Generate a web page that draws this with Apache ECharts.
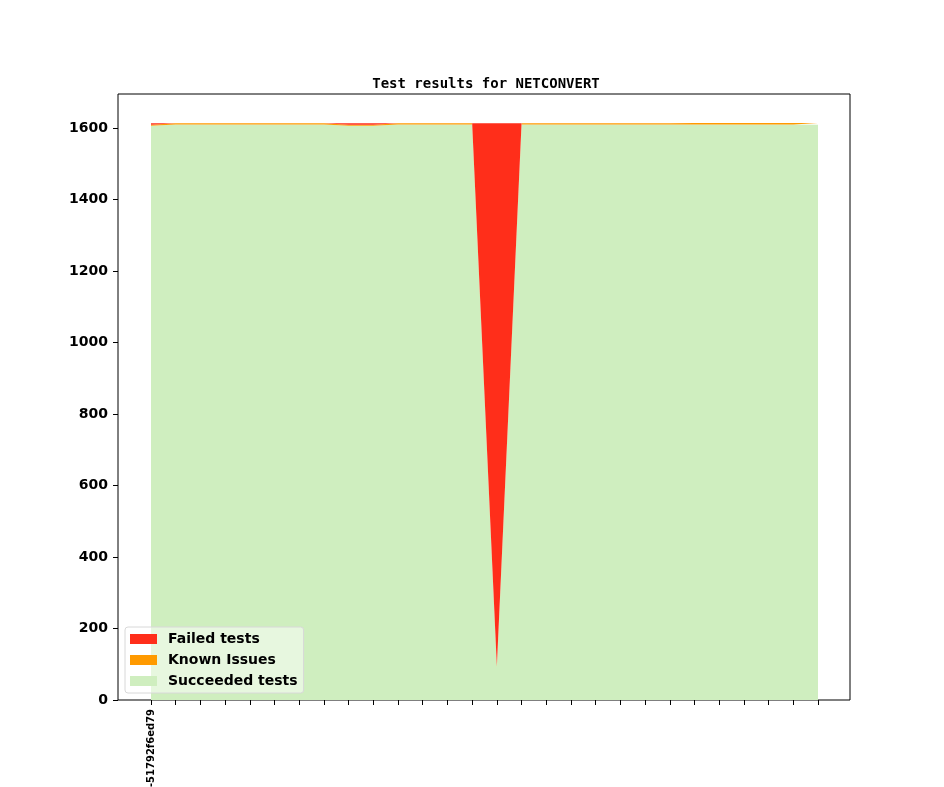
<!DOCTYPE html>
<html lang="en">
<head>
	<meta charset="UTF-8">
	<title>Test results for NETCONVERT</title>
	<script src="https://cdn.jsdelivr.net/npm/echarts@6/dist/echarts.min.js"></script>
	<style>
		html, body { margin: 0; padding: 0; background: #fff; }
		#chart { width: 944px; height: 787px; }
	</style>
</head>
<body>
<div id="chart"></div>
<script>
	// one entry per build, only the first label is visible in the original
	var commits = ['-51792f6ed79', '', '', '', '', '', '', '', '', '', '', '', '', '',
		'', '', '', '', '', '', '', '', '', '', '', '', '', ''];
	var succeeded = [1606, 1610, 1610, 1610, 1610, 1610, 1610, 1610, 1606, 1606, 1610, 1610, 1610, 1610,
		92, 1610, 1610, 1610, 1610, 1610, 1610, 1610, 1610, 1610, 1610, 1610, 1610, 1609];
	var known = [3, 3, 3, 3, 3, 3, 3, 3, 3, 3, 3, 3, 3, 3,
		3, 3, 3, 3, 3, 3, 3, 3, 4, 4, 4, 4, 4, 5];
	var failed = [4, 0, 0, 0, 0, 0, 0, 0, 4, 4, 0, 0, 0, 0,
		1518, 0, 0, 0, 0, 0, 0, 0, 0, 0, 0, 0, 0, 0];
	var yTicks = [0, 200, 400, 600, 800, 1000, 1200, 1400, 1600];

	var chart = echarts.init(document.getElementById('chart'));
	var sans = 'DejaVu Sans';

	function area(name, color, data) {
		return {
			name: name,
			type: 'line',
			stack: 'tests',
			data: data,
			showSymbol: false,
			symbol: 'none',
			lineStyle: {width: 0},
			itemStyle: {color: color},
			areaStyle: {color: color, opacity: 1},
			silent: true,
			animation: false
		};
	}

	chart.setOption({
		animation: false,
		title: {
			text: 'Test results for NETCONVERT',
			left: 481,
			top: 72,
			textAlign: 'center',
			textStyle: {fontFamily: 'DejaVu Sans Mono', fontWeight: 'bold', fontSize: 14, color: '#000'}
		},
		legend: {
			orient: 'vertical',
			left: 125,
			top: 627,
			data: ['Failed tests', 'Known Issues', 'Succeeded tests'],
			icon: 'rect',
			itemWidth: 27,
			itemHeight: 10,
			itemGap: 7,
			padding: [5, 6, 5, 5],
			backgroundColor: 'rgba(255,255,255,0.5)',
			borderColor: '#d8d8d8',
			borderWidth: 1,
			borderRadius: 3,
			selectedMode: false,
			textStyle: {fontFamily: sans, fontWeight: 'bold', fontSize: 14, color: '#000', padding: [0, 0, 0, 6]}
		},
		grid: [
			{left: 151, right: 126, top: 94, bottom: 87, outerBoundsMode: 'none', containLabel: false},
			{left: 118, right: 94, top: 94, bottom: 87, outerBoundsMode: 'none', show: true, borderColor: '#000', borderWidth: 1, backgroundColor: 'transparent'}
		],
		xAxis: [
			{
				type: 'category',
				data: commits,
				boundaryGap: false,
				axisLine: {show: false},
				axisTick: {show: true, interval: 0, length: 5, lineStyle: {color: '#000'}},
				axisLabel: {
					interval: 0,
					rotate: 90,
					margin: 9,
					fontFamily: sans,
					fontWeight: 'bold',
					fontSize: 10,
					color: '#000'
				},
				splitLine: {show: false}
			},
			{type: 'value', gridIndex: 1, show: false}
		],
		yAxis: [
			{
				type: 'value',
				min: 0,
				max: 1695,
				offset: 33,
				axisLine: {show: false},
				axisTick: {show: true, length: 5, customValues: yTicks, lineStyle: {color: '#000'}},
				axisLabel: {
					customValues: yTicks,
					margin: 10,
					formatter: function (v) { return String(v); },
					fontFamily: sans,
					fontWeight: 'bold',
					fontSize: 14,
					color: '#000'
				},
				splitLine: {show: false}
			},
			{type: 'value', gridIndex: 1, show: false}
		],
		series: [
			area('Succeeded tests', '#cfeebf', succeeded),
			area('Known Issues', '#ff9a00', known),
			area('Failed tests', '#ff2e1a', failed)
		]
	});
</script>
</body>
</html>
